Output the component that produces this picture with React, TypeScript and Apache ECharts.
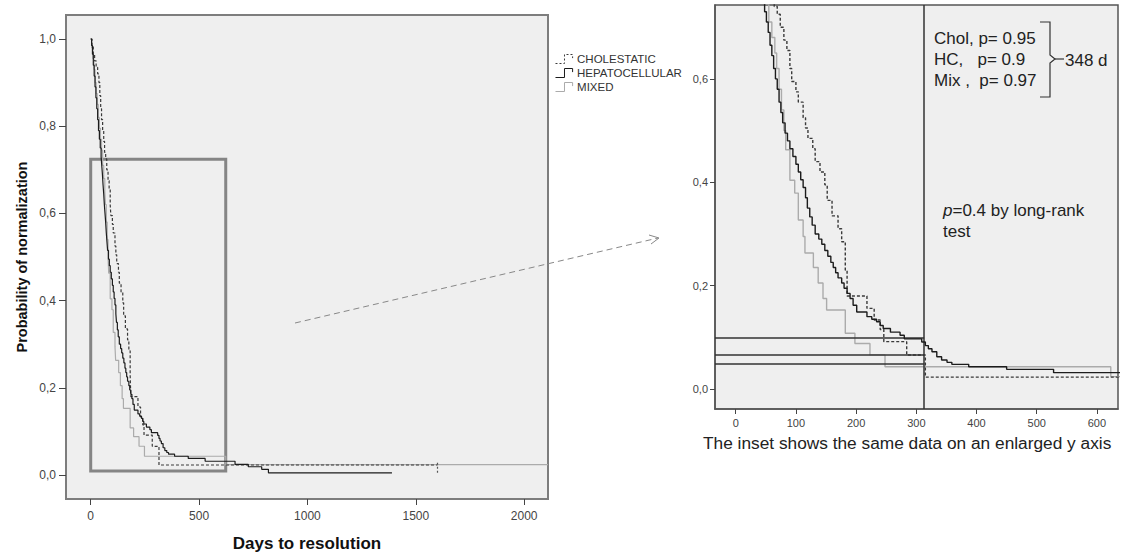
import React, { useEffect, useRef } from "react";
import * as echarts from "echarts";

const FONT = 'Arial, "Liberation Sans", Helvetica, sans-serif';

const groups = ["CHOLESTATIC", "HEPATOCELLULAR", "MIXED"];

const cholDays = [0, 6, 12, 18, 25, 32, 38, 42, 46, 50, 55, 60, 64, 69, 74, 80, 85, 90, 93, 100, 104, 112, 116, 120, 128, 132, 140, 148, 152, 160, 170, 176, 182, 185, 218, 230, 240, 246, 284, 315, 1600];
const cholProb = [1.0, 0.985, 0.965, 0.95, 0.935, 0.92, 0.9, 0.87, 0.84, 0.815, 0.79, 0.765, 0.74, 0.725, 0.7, 0.675, 0.655, 0.62, 0.595, 0.575, 0.555, 0.525, 0.505, 0.485, 0.465, 0.44, 0.42, 0.395, 0.365, 0.335, 0.31, 0.285, 0.23, 0.18, 0.156, 0.1335, 0.115, 0.0916, 0.0658, 0.023, 0.023];

const hcDays = [0, 4, 8, 12, 16, 20, 24, 28, 32, 36, 40, 44, 48, 51, 54, 57, 60, 63, 66, 69, 72, 75, 78, 82, 86, 90, 95, 100, 104, 108, 112, 116, 119, 123, 127, 132, 138, 143, 148, 153, 158, 162, 166, 170, 176, 180, 185, 190, 195, 201, 218, 226, 234, 240, 245, 257, 273, 280, 309, 315, 320, 326, 334, 342, 351, 359, 387, 450, 528, 666, 727, 789, 820, 1390];
const hcProb = [1.0, 0.985, 0.965, 0.94, 0.915, 0.89, 0.865, 0.84, 0.815, 0.79, 0.77, 0.75, 0.73, 0.71, 0.69, 0.665, 0.645, 0.62, 0.6, 0.58, 0.555, 0.535, 0.515, 0.495, 0.48, 0.465, 0.45, 0.435, 0.42, 0.405, 0.39, 0.37, 0.35, 0.333, 0.317, 0.3, 0.29, 0.28, 0.268, 0.257, 0.245, 0.235, 0.225, 0.215, 0.205, 0.195, 0.185, 0.175, 0.162, 0.149, 0.14, 0.135, 0.13, 0.123, 0.117, 0.11, 0.104, 0.097, 0.091, 0.084, 0.078, 0.072, 0.0625, 0.056, 0.0516, 0.0477, 0.043, 0.038, 0.0316, 0.0244, 0.019, 0.013, 0.005, 0.005];

const mixDays = [0, 5, 10, 15, 20, 25, 30, 35, 40, 45, 50, 55, 60, 65, 68, 72, 76, 80, 83, 90, 98, 104, 112, 115, 129, 137, 145, 151, 182, 198, 223, 248, 623, 2110];
const mixProb = [1.0, 0.98, 0.955, 0.93, 0.9, 0.875, 0.85, 0.82, 0.795, 0.77, 0.745, 0.71, 0.68, 0.65, 0.62, 0.58, 0.54, 0.5, 0.463, 0.404, 0.379, 0.327, 0.295, 0.263, 0.235, 0.205, 0.175, 0.153, 0.108, 0.088, 0.066, 0.043, 0.024, 0.024];

const mainXTicks = [0, 500, 1000, 1500, 2000];
const mainYTicks = [0, 0.2, 0.4, 0.6, 0.8, 1.0];
const insetXTicks = [0, 100, 200, 300, 400, 500, 600];
const insetYTicks = [0, 0.2, 0.4, 0.6];

const zoomBoxDays = [0, 623];
const zoomBoxProb = [0.009, 0.724];
const cholCensorDay = 1600;
const insetCutoffDay = 313;
const insetRefLevels = [0.1, 0.066, 0.048];

const pLines = ["Chol, p= 0.95", "HC,   p= 0.9", "Mix ,  p= 0.97"];
const medianLabel = "348 d";
const logRankText = "{i|p}=0.4 by long-rank";
const caption = "The inset shows the same data on an enlarged y axis";

const styles: Record<string, { color: string; type: any }> = {
  CHOLESTATIC: { color: "#3a3a3a", type: [3, 2] },
  HEPATOCELLULAR: { color: "#1c1c1c", type: "solid" },
  MIXED: { color: "#ababab", type: "solid" },
};

const dataFor: Record<string, number[][]> = {
  CHOLESTATIC: cholDays.map((d, i) => [d, cholProb[i]]),
  HEPATOCELLULAR: hcDays.map((d, i) => [d, hcProb[i]]),
  MIXED: mixDays.map((d, i) => [d, mixProb[i]]),
};

const fmt = (v: number) => v.toFixed(1).replace(".", ",");
const fmtInt = (v: number) => String(Math.round(v));

export default function App() {
  const ref = useRef<HTMLDivElement>(null);
  useEffect(() => {
    if (!ref.current) return;
    const chart = echarts.init(ref.current, null, { renderer: "svg" });
    const drawOrder = ["MIXED", "CHOLESTATIC", "HEPATOCELLULAR"];
    const series: any[] = [];
    [0, 1].forEach((g) => {
      drawOrder.forEach((name, k) => {
        const s: any = {
          type: "line",
          name,
          xAxisIndex: g,
          yAxisIndex: g,
          data: dataFor[name],
          step: "end",
          symbol: "none",
          showSymbol: false,
          clip: true,
          z: 3 + k,
          lineStyle: { color: styles[name].color, width: g === 0 ? 1.2 : 1.4, type: styles[name].type },
          itemStyle: { color: styles[name].color },
        };
        if (g === 0 && name === "HEPATOCELLULAR") {
          s.markArea = {
            silent: true,
            itemStyle: { color: "rgba(0,0,0,0)", borderColor: "#858585", borderWidth: 3 },
            data: [[{ coord: [zoomBoxDays[0], zoomBoxProb[1]] }, { coord: [zoomBoxDays[1], zoomBoxProb[0]] }]],
          };
        }
        if (g === 0 && name === "CHOLESTATIC") {
          s.markLine = {
            silent: true,
            symbol: "none",
            label: { show: false },
            lineStyle: { color: "#555", width: 1.2, type: [2, 2] },
            data: [[{ coord: [cholCensorDay, 0.028] }, { coord: [cholCensorDay, 0.003] }]],
          };
        }
        if (g === 1 && name === "HEPATOCELLULAR") {
          s.markLine = {
            silent: true,
            symbol: "none",
            label: { show: false },
            lineStyle: { color: "#333", width: 1.5, type: "solid" },
            data: [
              { xAxis: insetCutoffDay },
              ...insetRefLevels.map((lv) => [{ coord: [-34.4, lv] }, { coord: [insetCutoffDay, lv] }]),
            ],
          };
        }
        series.push(s);
      });
    });

    const axisLabelBase = { color: "#444", fontFamily: FONT };
    const annot = { fill: "#222", fontSize: 17, fontFamily: FONT, textVerticalAlign: "middle" };

    chart.setOption({
      animation: false,
      backgroundColor: "#ffffff",
      textStyle: { fontFamily: FONT },
      grid: [
        { left: 66, top: 15, width: 482, height: 484, show: true, backgroundColor: "#efefef", borderColor: "#7d7d7d", borderWidth: 2 },
        { left: 715, top: 5, width: 403, height: 404, show: true, backgroundColor: "#efefef", borderColor: "#555", borderWidth: 1.5 },
      ],
      xAxis: [
        {
          type: "value", gridIndex: 0, min: -114, max: 2110,
          splitLine: { show: false },
          axisLine: { show: true, onZero: false, lineStyle: { color: "#7d7d7d", width: 2 } },
          axisTick: { show: true, customValues: mainXTicks, length: 6, lineStyle: { color: "#444" } },
          axisLabel: { ...axisLabelBase, fontSize: 12, margin: 11, customValues: mainXTicks, formatter: fmtInt },
          name: "Days to resolution", nameLocation: "middle", nameGap: 36,
          nameTextStyle: { fontWeight: "bold", fontSize: 17, color: "#111", fontFamily: FONT },
        },
        {
          type: "value", gridIndex: 1, min: -34.4, max: 635,
          splitLine: { show: false },
          axisLine: { show: true, onZero: false, lineStyle: { color: "#555", width: 1.5 } },
          axisTick: { show: true, customValues: insetXTicks, length: 5, lineStyle: { color: "#444" } },
          axisLabel: { ...axisLabelBase, fontSize: 11, margin: 8, customValues: insetXTicks, formatter: fmtInt },
        },
      ],
      yAxis: [
        {
          type: "value", gridIndex: 0, min: -0.055, max: 1.055,
          splitLine: { show: false },
          axisLine: { show: true, onZero: false, lineStyle: { color: "#7d7d7d", width: 2 } },
          axisTick: { show: true, customValues: mainYTicks, length: 7, lineStyle: { color: "#444" } },
          axisLabel: { ...axisLabelBase, fontSize: 12, margin: 10, customValues: mainYTicks, formatter: fmt },
          name: "Probability of normalization", nameLocation: "middle", nameGap: 37, nameRotate: 90,
          nameTextStyle: { fontWeight: "bold", fontSize: 14.5, color: "#111", fontFamily: FONT },
        },
        {
          type: "value", gridIndex: 1, min: -0.0387, max: 0.743,
          splitLine: { show: false },
          axisLine: { show: true, onZero: false, lineStyle: { color: "#555", width: 1.5 } },
          axisTick: { show: true, customValues: insetYTicks, length: 5, lineStyle: { color: "#444" } },
          axisLabel: { ...axisLabelBase, fontSize: 11, margin: 7, customValues: insetYTicks, formatter: fmt },
        },
      ],
      legend: {
        orient: "vertical",
        left: 550,
        top: 48,
        itemWidth: 22,
        itemHeight: 9,
        itemGap: 2,
        selectedMode: false,
        textStyle: { fontSize: 11.5, color: "#333", fontFamily: FONT, padding: [0, 0, 0, -3] },
        data: groups.map((g) => ({
          name: g,
          icon: "path://M0,10 L10,10 L10,0 L19,0 L19,4",
          itemStyle: {
            color: "rgba(0,0,0,0)",
            borderColor: styles[g].color,
            borderWidth: 1,
            borderType: g === "CHOLESTATIC" ? [2, 2] : "solid",
          },
        })),
      },
      graphic: [
        {
          type: "line", silent: true,
          shape: { x1: 295, y1: 323, x2: 658, y2: 238 },
          style: { stroke: "#888", lineWidth: 1, lineDash: [6, 4] },
        },
        {
          type: "polyline", silent: true,
          shape: { points: [[649, 235], [659, 238], [651, 244]] },
          style: { stroke: "#888", lineWidth: 1, fill: "none" },
        },
        ...pLines.map((t, i) => ({
          type: "text", silent: true,
          style: { x: 934, y: 38 + i * 21, text: t, ...annot },
        })),
        {
          type: "polyline", silent: true,
          shape: { points: [[1040, 22], [1050, 22], [1050, 55], [1055, 59], [1050, 63], [1050, 97], [1040, 97]] },
          style: { stroke: "#333", lineWidth: 1.2, fill: "none" },
        },
        {
          type: "line", silent: true,
          shape: { x1: 1055, y1: 59, x2: 1064, y2: 59 },
          style: { stroke: "#333", lineWidth: 1.2 },
        },
        {
          type: "text", silent: true,
          style: { x: 1065, y: 60, text: medianLabel, ...annot },
        },
        {
          type: "text", silent: true,
          style: {
            x: 943, y: 210, text: logRankText, ...annot,
            rich: { i: { fontStyle: "italic", fontSize: 17, fontFamily: FONT, fill: "#222" } },
          },
        },
        {
          type: "text", silent: true,
          style: { x: 943, y: 231, text: "test", ...annot },
        },
        {
          type: "text", silent: true,
          style: { x: 703, y: 443, text: caption, ...annot, fontSize: 17.3 },
        },
      ],
      series,
    });
    return () => chart.dispose();
  }, []);
  return <div ref={ref} style={{ position: "fixed", left: 0, top: 0, width: 1121, height: 559 }} />;
}
